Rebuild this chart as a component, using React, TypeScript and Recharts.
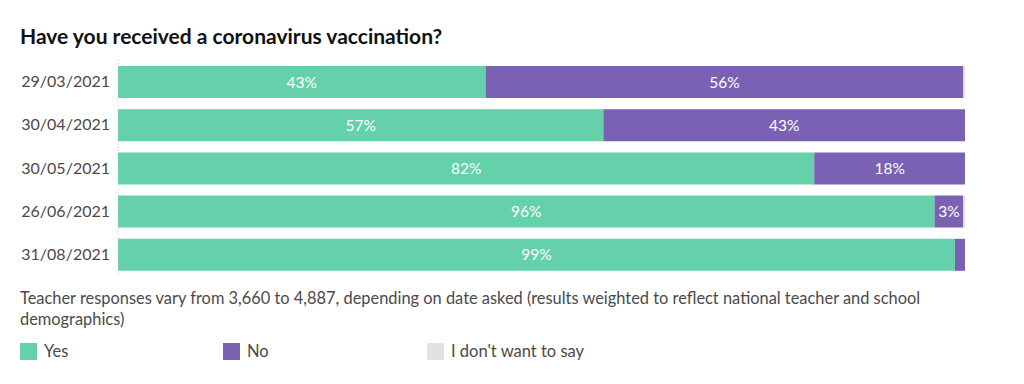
import React from "react";
import { BarChart, Bar, XAxis, YAxis, LabelList } from "recharts";

const dates = ["29/03/2021", "30/04/2021", "30/05/2021", "26/06/2021", "31/08/2021"];
const yesValues = [43.4, 57.3, 82.2, 96.4, 98.8];
const noValues = [56.4, 42.7, 17.8, 3.4, 1.2];
const dontSayValues = [0.2, 0, 0, 0.2, 0];

const GREEN = "#64d1aa";
const PURPLE = "#7a61b3";
const GREY = "#e2e2e2";
const TEXT = "#4a4a4a";

const data = dates.map((date, i) => ({
  date,
  yes: yesValues[i],
  no: noValues[i],
  dontSay: dontSayValues[i],
}));

const fmt = (v: any) => (v >= 2 ? `${Math.round(v)}%` : "");

const legendItems = [
  { label: "Yes", color: GREEN, left: 20 },
  { label: "No", color: PURPLE, left: 223 },
  { label: "I don't want to say", color: GREY, left: 427 },
];

export default function App() {
  const font = "Lato, 'Open Sans', sans-serif";
  return (
    <div
      style={{
        position: "fixed",
        left: 0,
        top: 0,
        width: 1024,
        height: 384,
        background: "#fff",
        fontFamily: font,
      }}
    >
      <div
        style={{
          position: "absolute",
          left: 20,
          top: 23,
          fontSize: 21,
          fontWeight: 700,
          color: "#111",
        }}
      >
        Have you received a coronavirus vaccination?
      </div>
      <div style={{ position: "absolute", left: 0, top: 60 }}>
        <BarChart
          width={1024}
          height={216}
          data={data}
          layout="vertical"
          margin={{ top: 0, right: 59, bottom: 0, left: 0 }}
          barSize={32}
        >
          <XAxis type="number" domain={[0, 100]} hide />
          <YAxis
            type="category"
            dataKey="date"
            width={118}
            tickLine={false}
            axisLine={{ stroke: "#ccc", strokeDasharray: "1 2" }}
            tickMargin={2}
            tick={{ fontSize: 16, fill: TEXT, fontFamily: font }}
          />
          <Bar dataKey="yes" stackId="a" fill={GREEN} isAnimationActive={false}>
            <LabelList
              dataKey="yes"
              position="center"
              formatter={fmt}
              style={{ fill: "#fff", fontSize: 15.5, fontFamily: font }}
            />
          </Bar>
          <Bar dataKey="no" stackId="a" fill={PURPLE} isAnimationActive={false}>
            <LabelList
              dataKey="no"
              position="center"
              formatter={fmt}
              style={{ fill: "#fff", fontSize: 15.5, fontFamily: font }}
            />
          </Bar>
          <Bar dataKey="dontSay" stackId="a" fill={GREY} isAnimationActive={false} />
        </BarChart>
      </div>
      <div
        style={{
          position: "absolute",
          left: 20,
          top: 287,
          width: 940,
          fontSize: 16.4,
          lineHeight: "21px",
          color: TEXT,
        }}
      >
        Teacher responses vary from 3,660 to 4,887, depending on date asked (results weighted to reflect national teacher and school demographics)
      </div>
      {legendItems.map((item) => (
        <div
          key={item.label}
          style={{
            position: "absolute",
            left: item.left,
            top: 341,
            display: "flex",
            alignItems: "center",
            fontSize: 16.5,
            color: TEXT,
          }}
        >
          <span
            style={{
              display: "inline-block",
              width: 17,
              height: 17,
              background: item.color,
              marginRight: 7,
            }}
          />
          {item.label}
        </div>
      ))}
    </div>
  );
}
